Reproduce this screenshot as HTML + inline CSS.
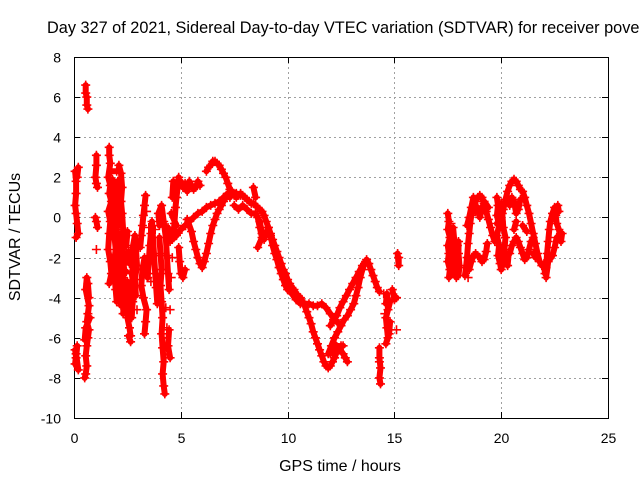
<!DOCTYPE html>
<html><head><meta charset="utf-8"><style>
html,body{margin:0;padding:0;background:#fff;}
svg{display:block;font-family:"Liberation Sans",sans-serif;}
</style></head><body>
<svg id="chart" width="640" height="480" viewBox="0 0 640 480">
<rect x="0" y="0" width="640" height="480" fill="#fff"/>
<text x="47" y="33" font-size="16.3" fill="#000">Day 327 of 2021, Sidereal Day-to-day VTEC variation (SDTVAR) for receiver povel</text>
<g id="grid"></g>
<g id="axes"></g>
<g id="marks"></g>
<text x="20" y="237" font-size="16" text-anchor="middle" transform="rotate(-90 20 237)">SDTVAR / TECUs</text>
<text x="340" y="471" font-size="16" text-anchor="middle">GPS time / hours</text>
</svg>
<script>
const xTicks=[0,5,10,15,20,25];
const yTicks=[-10,-8,-6,-4,-2,0,2,4,6,8];
const early=[[0.05,2.3],[0.1,1.8],[0.1,1.2],[0.05,0.6],[0.1,0.2],[0.15,-0.3],[0.2,-0.8],[0.1,-1.0],[0.2,2.5],[0.15,2.0],[0.05,-6.6],[0.1,-7.0],[0.15,-6.4],[0.05,-7.3],[0.2,-7.6],[0.1,-6.8],
[0.55,6.6],[0.55,6.2],[0.6,6.0],[0.6,5.6],[0.65,5.4],[0.5,-8.0],[0.55,-7.8],[0.6,-7.4],[0.55,-6.9],[0.6,-6.4],[0.65,-6.0],[0.7,-5.6],[0.6,-5.2],[0.65,-4.8],[0.7,-4.4],[0.55,-3.6],[0.6,-3.0],[0.65,-3.3],[0.7,-4.0],[0.75,-5.0],[0.55,-5.5],[0.5,-6.1],
[1.05,3.1],[1.05,2.6],[1.0,2.0],[1.05,1.7],[1.1,1.5],[1.0,0.0],[1.05,-0.2],[1.1,-0.5],[1.05,-1.6]];
const cluster2=[[1.65,3.5],[1.65,3.1],[1.7,2.7],[1.6,2.0],[1.7,1.6],[1.65,1.2],[1.75,0.8],[1.6,0.3],[1.7,-0.2],[1.65,-0.8],[1.6,-1.6],[1.7,-2.2],[1.75,-2.8],[1.65,-3.3],[1.8,1.9],[1.85,1.4],[1.8,0.9],[1.9,0.4],[1.85,-0.3],[1.9,-1.0],[1.95,-1.6],[1.85,-2.4],[1.9,-3.0],[1.95,-3.6],[2.0,-4.2],[2.05,1.8],[2.0,1.3],[2.05,0.7],[2.1,0.1],[2.0,-0.6],[2.1,-1.3],[2.15,-2.0],[2.05,-2.6],[2.1,-3.3],[2.15,-3.9],[2.2,-4.4],[2.1,2.6],[2.2,2.2],[2.25,1.5],[2.2,0.8],[2.25,0.2],[2.3,-0.6],[2.25,-1.4],[2.35,-2.2],[2.3,-3.0],[2.4,-3.7],[2.35,-4.3],[2.3,-4.8],[2.0,2.3],[1.75,2.3],[1.95,0.0],[2.4,-1.0],[2.45,-2.7],[2.2,-2.6],
[2.5,-3.2],[2.55,-3.8],[2.6,-4.4],[2.5,-5.0],[2.6,-5.5],[2.65,-5.9],[2.7,-5.0],[2.75,-4.2],[2.8,-3.5],[2.7,-2.8],[2.8,-2.2],[2.75,-1.5],[2.85,-0.9],[2.9,-1.5],[2.95,-2.4],[2.85,-3.1],[2.9,-3.9],[2.55,-1.7],[2.6,-2.3],[2.5,-0.7],[2.45,-1.4],[2.65,-6.2],[2.55,-5.9],[2.95,-4.6]];
const cluster3=[[3.1,-1.5],[3.15,-0.9],[3.2,-0.4],[3.25,0.1],[3.3,0.6],[3.35,1.1],[3.3,-2.0],[3.2,-2.6],[3.15,-3.4],[3.25,-4.0],[3.4,-4.6],[3.35,-5.2],[3.3,-5.8],[3.45,-3.0],[3.5,-2.2],[3.55,-1.4],[3.6,-0.8],[3.65,-0.2],[3.7,-1.0],[3.75,-1.9],[3.8,-2.8],[3.85,-3.5],[3.9,-4.3],[3.6,-3.2],[3.5,-0.5],[3.8,-0.6],[3.4,0.3],
[4.0,-1.0],[4.05,-1.8],[4.1,-2.6],[4.05,-3.4],[4.1,-4.2],[4.15,-5.0],[4.1,-5.8],[4.15,-6.5],[4.2,-7.2],[4.15,-7.8],[4.2,-8.4],[4.25,-8.8],[4.2,-6.0],[4.3,-7.0],[4.35,-5.5],[4.3,-4.5],[4.0,-0.4],[3.95,0.2],[4.1,0.6],[4.2,-0.2],[4.3,-1.0],[4.35,-1.9],[4.4,-2.8],[4.45,-3.6],[4.5,-4.6],[4.45,-5.6],[4.4,-6.4],[4.5,-7.0],
[4.55,-3.0],[4.6,-2.0],[4.65,-1.0],[4.7,-0.3],[4.75,0.5],[4.8,1.0],[4.85,1.5],[4.9,2.0],[4.6,1.0],[4.65,1.8],[4.55,0.2],[4.8,-0.4],[4.9,-1.5],[4.95,-2.2],[5.0,-2.8],[5.1,-3.0],[5.2,-2.6],[5.0,1.8],[5.1,1.5],[5.2,1.7],[5.3,1.3],[5.4,1.8],[5.5,1.6],[5.6,1.4],[5.7,1.5],[5.8,1.8],[5.9,1.6],[4.4,-0.5],[4.5,-1.2],[5.05,-0.6]];
const lowTrack=[[4.6,-1.1],[4.8,-0.9],[5.0,-0.6],[5.2,-0.4],[5.4,-0.2],[5.6,0.0],[5.8,0.2],[6.0,0.3],[6.2,0.5],[6.4,0.6],[6.6,0.7],[6.8,0.8],[7.0,1.0],[7.2,1.2],[7.4,1.3],[7.6,1.2],[7.8,1.1]];
const vTrack=[[5.3,-0.1],[5.5,-0.7],[5.6,-1.2],[5.7,-1.6],[5.8,-2.0],[5.9,-2.3],[6.0,-2.5],[6.1,-2.2],[6.2,-1.8],[6.3,-1.3],[6.4,-0.8],[6.5,-0.4],[6.6,-0.1],[6.7,0.2],[6.8,0.4],[6.9,0.6],[7.0,0.8],[7.1,1.0],[7.2,1.1],[7.3,1.0]];
const archTrack=[[6.2,2.3],[6.3,2.5],[6.4,2.6],[6.5,2.8],[6.6,2.8],[6.7,2.7],[6.8,2.6],[6.9,2.4],[7.0,2.2],[7.1,2.0],[7.2,1.7],[7.3,1.4],[7.4,1.2],[7.5,1.1],[7.6,1.0],[7.7,1.1],[7.8,1.2],[7.9,1.1],[8.0,1.0],[8.1,0.9],[8.2,0.8],[8.3,0.7],[8.4,0.7],[8.5,0.6],[8.6,0.5],[8.7,0.4],[8.8,0.3],[8.9,0.1],[9.0,-0.2],[9.1,-0.5],[9.2,-0.8],[9.3,-1.1],[9.4,-1.4],[9.5,-1.7],[9.6,-2.0],[9.7,-2.3],[9.8,-2.6],[9.9,-2.8],[10.0,-3.1],[10.1,-3.3],[10.2,-3.5],[10.3,-3.6],[10.4,-3.8],[10.5,-3.9],[10.6,-4.0],[10.7,-4.2],[10.8,-4.4],[10.9,-4.7],[11.0,-5.0],[11.1,-5.3],[11.2,-5.7],[11.3,-6.0],[11.4,-6.3],[11.5,-6.6],[11.6,-6.9],[11.7,-7.2],[11.8,-7.4],[11.9,-7.5],[12.0,-7.4],[12.1,-7.2],[12.2,-7.0],[12.3,-6.7],[12.4,-6.5],[12.5,-6.4],[12.6,-6.4]];
const descentTrack=[[7.5,0.6],[7.7,0.4],[7.9,0.6],[8.1,0.4],[8.3,0.2],[8.5,0.2],[8.7,-0.2],[8.8,-0.8],[8.9,-1.1],[9.1,-0.5],[9.2,-0.9],[9.3,-1.4],[9.4,-1.8],[9.5,-2.1],[9.6,-2.5],[9.7,-2.8],[9.8,-3.1],[9.9,-3.4],[10.0,-3.6],[10.2,-3.8],[10.4,-4.1],[10.6,-4.3],[10.8,-4.3],[11.0,-4.3],[11.2,-4.4],[11.4,-4.4],[11.6,-4.3],[11.8,-4.5],[12.0,-4.8],[12.2,-5.1],[12.4,-5.3],
[8.4,1.5],[8.5,1.0],[8.6,0.0],[8.7,-0.5],[8.8,-1.0],[8.6,-1.5]];
const riseTracks=[[11.9,-6.8],[12.05,-6.4],[12.2,-6.0],[12.35,-5.7],[12.5,-5.4],[12.65,-5.1],[12.8,-4.9],[12.95,-4.6],[13.1,-4.3],[13.2,-3.9],[13.3,-3.5],[13.4,-3.0],[13.5,-2.6],[13.6,-2.3],[13.7,-2.1],[13.8,-2.3],[13.9,-2.6],[14.0,-2.9],[14.1,-3.2],[14.2,-3.5],[14.3,-3.7],
[12.0,-5.4],[12.15,-5.1],[12.3,-4.9],[12.45,-4.5],[12.6,-4.2],[12.75,-3.9],[12.9,-3.6],[13.05,-3.3],[13.2,-3.0],[13.35,-2.7],[13.5,-2.4],[13.65,-2.2],
[12.0,-6.8],[12.2,-6.3],[12.4,-6.5],[12.6,-6.8],[12.8,-7.2],[12.7,-7.0]];
const mid15=[[14.3,-6.5],[14.3,-7.0],[14.35,-7.5],[14.3,-8.0],[14.35,-8.3],[14.3,-7.2],[14.6,-4.3],[14.65,-3.8],[14.7,-4.6],[14.8,-4.2],[14.6,-5.0],[14.65,-5.5],[14.7,-6.0],[14.6,-6.3],[14.75,-5.8],[14.8,-5.2],[14.9,-3.6],[15.0,-4.1],[15.1,-4.0],[15.1,-5.6],[15.2,-2.0],[15.2,-2.4],[15.15,-1.8],[14.5,-3.8],[14.55,-4.8]];
const late=[[17.5,0.2],[17.55,-0.2],[17.5,-0.6],[17.6,-1.0],[17.5,-1.4],[17.55,-1.8],[17.5,-2.2],[17.6,-2.6],[17.55,-3.0],[17.7,-2.8],[17.7,-2.2],[17.75,-1.6],[17.8,-1.1],[17.75,-0.5],[17.7,-1.9],[17.85,-2.5],[17.9,-3.0],[17.9,-2.0],[17.95,-1.4],[18.0,-1.2],[18.0,-1.8],[18.05,-2.4],[18.0,-2.9],[17.65,-0.3],[17.6,-1.5],
[18.3,-2.9],[18.35,-2.5],[18.4,-2.0],[18.45,-1.3],[18.5,-0.8],[18.55,-0.3],[18.6,0.1],[18.7,0.5],[18.8,0.8],[18.9,1.0],[19.0,1.1],[19.1,1.0],[19.2,0.7],[19.3,0.3],[19.4,-0.1],[19.5,-0.5],[19.6,-0.9],[19.7,-1.2],[18.4,-0.4],[18.5,0.0],[18.6,0.5],[18.7,1.0],[18.8,0.3],[18.9,0.5],[19.0,0.0],[19.2,0.8],[19.4,0.5],
[18.5,-2.6],[18.6,-2.2],[18.7,-1.9],[18.8,-1.8],[18.9,-1.9],[19.0,-2.0],[19.1,-2.2],[19.2,-2.1],[19.3,-1.7],[19.35,-1.3],[18.45,-3.0]];
const late2=[[19.8,1.0],[19.85,0.6],[19.8,0.1],[19.9,-0.4],[19.8,-0.9],[19.9,-1.4],[19.85,-1.9],[19.95,-2.3],[20.0,-2.6],[20.1,-2.2],[20.15,-1.6],[20.2,-1.0],[20.1,-0.5],[20.05,0.2],[20.0,0.7],[20.2,-2.0],[20.3,-2.4],[20.35,-1.8],[19.8,-0.3],
[20.0,-0.2],[20.1,0.4],[20.2,0.9],[20.3,1.3],[20.4,1.6],[20.5,1.8],[20.6,1.9],[20.7,1.8],[20.8,1.6],[20.9,1.4],[21.0,1.3],[21.1,1.0],[21.2,0.6],[21.3,0.2],[21.4,-0.3],[21.5,-0.8],[21.6,-1.3],[21.7,-1.8],[21.8,-2.2],[21.9,-2.4],[20.4,0.6],[20.5,1.0],[20.6,0.8],[20.7,0.2],[20.8,0.4],[20.9,0.9],
[20.4,-1.8],[20.5,-1.4],[20.6,-1.2],[20.7,-1.0],[20.8,-1.2],[20.9,-1.5],[21.0,-1.8],[21.1,-2.1],[21.2,-2.0],[21.3,-1.6],[21.4,-1.2],[21.5,-1.0],[20.6,-0.6],[20.7,-0.2],[21.0,-0.4],[21.2,-0.7],[21.5,-1.8],[21.6,-2.0],
[22.0,-2.3],[22.05,-2.8],[22.1,-2.5],[22.15,-1.8],[22.2,-1.2],[22.25,-0.6],[22.3,-0.2],[22.4,0.2],[22.5,0.5],[22.55,0.1],[22.6,-0.3],[22.7,-0.6],[22.75,-0.9],[22.8,-1.2],[22.85,-0.8],[22.6,-1.0],[22.5,-1.5],[22.4,-1.9],[22.2,-2.2],[22.1,-3.0],[22.3,-1.0],[22.65,0.6],[22.7,0.3]];

const series=[early,cluster2,cluster3,lowTrack,vTrack,archTrack,descentTrack,riseTracks,mid15,late,late2];
const X0=74,X1=608,Y0=418,Y1=57;
function xs(t){return X0+(t-0)/(25-0)*(X1-X0);}
function ys(v){return Y0-(v-(-10))/(8-(-10))*(Y0-Y1);}
const NS='http://www.w3.org/2000/svg';
const grid=document.getElementById('grid'),axes=document.getElementById('axes'),marks=document.getElementById('marks');
function mk(tag,attrs,parent){const e=document.createElementNS(NS,tag);for(const k in attrs)e.setAttribute(k,attrs[k]);parent.appendChild(e);return e;}
xTicks.forEach(t=>{const x=Math.round(xs(t))+0.5;
 if(t>0&&t<25){const g=mk('line',{x1:x,y1:Y1,x2:x,y2:Y0,stroke:'#a0a0a0','stroke-dasharray':'2,3'},grid);
 
 }
 const tk=mk('path',{d:`M${x} ${Y0}v-6M${x} ${Y1}v6`,stroke:'#000'},axes);
 
 
 const lb=mk('text',{x:x,y:443,'font-size':14,'text-anchor':'middle'},axes);lb.textContent=t;
 
 });
yTicks.forEach(v=>{const y=Math.round(ys(v))+0.5;
 if(v>-10&&v<8){const g=mk('line',{x1:X0,y1:y,x2:X1,y2:y,stroke:'#a0a0a0','stroke-dasharray':'2,3'},grid);
 
 }
 const tk=mk('path',{d:`M${X0} ${y}h6M${X1} ${y}h-6`,stroke:'#000'},axes);
 
 
 const lb=mk('text',{x:61,y:y+5,'font-size':14,'text-anchor':'end'},axes);lb.textContent=v;
 
 });
const fr=mk('rect',{x:X0+0.5,y:Y1+0.5,width:X1-X0,height:Y0-Y1,fill:'none',stroke:'#000'},axes);


series.forEach(s=>{
 let band='';
 for(let i=1;i<s.length;i++){const a=s[i-1],b=s[i];
  if(Math.abs(b[0]-a[0])<=0.25&&Math.abs(b[1]-a[1])<=0.9){band+=`M${xs(a[0]).toFixed(1)} ${ys(a[1]).toFixed(1)}L${xs(b[0]).toFixed(1)} ${ys(b[1]).toFixed(1)}`;}}
 if(band){const bp=mk('path',{d:band,stroke:'#ff0000','stroke-width':6,'stroke-linecap':'round',fill:'none'},marks);
 
 }
 let d='';s.forEach(p=>{const x=xs(p[0]),y=ys(p[1]);d+=`M${(x-4.5).toFixed(1)} ${y.toFixed(1)}h9M${x.toFixed(1)} ${(y-4.5).toFixed(1)}v9`;});
 const pth=mk('path',{d:d,stroke:'#ff0000','stroke-width':1.6,fill:'none'},marks);
 
 });
</script>
</body></html>
